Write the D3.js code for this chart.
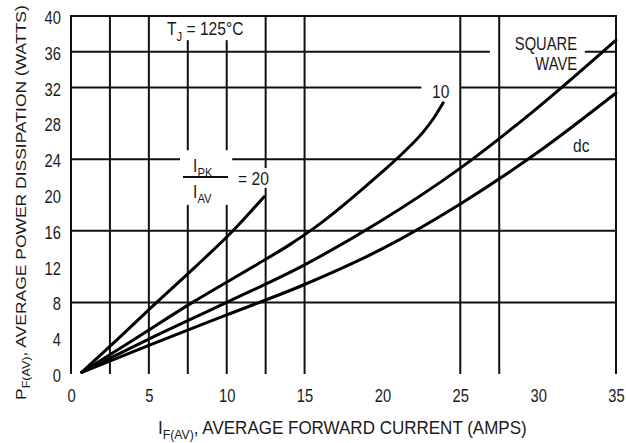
<!DOCTYPE html>
<html>
<head>
<meta charset="utf-8">
<script src="https://cdn.jsdelivr.net/npm/d3@7"></script>
<style>
  body { margin: 0; background: #fff; }
  text { font-family: "Liberation Sans", Arial, sans-serif; fill: #1a1a1a; }
</style>
</head>
<body>
<svg width="626" height="443"></svg>
<script>
// axis ticks
var xTicks = [0, 5, 10, 15, 20, 25, 30, 35];
var yTicks = [0, 4, 8, 12, 16, 20, 24, 28, 32, 36, 40];

// grid lines that are actually drawn on the sheet
var vGrid = [0, 2.5, 5, 7.5, 10, 12.5, 15, 25, 27.5, 35];
var hGrid = [8, 16, 24, 32, 36, 40];

// breaks in the grid where labels sit (data units)
var hGaps = [
    {at: 36, from: 26.9, to: 33.0},
    {at: 32, from: 22.5, to: 25.0},
    {at: 24, from: 7.0, to: 10.35}
];
var vGaps = [
    {at: 7.5, from: 37.3, to: 40},
    {at: 10, from: 37.3, to: 40},
    {at: 7.5, from: 18.9, to: 25.0},
    {at: 10, from: 18.9, to: 25.0},
    {at: 12.5, from: 20.8, to: 23.0}
];

// curves: [I_F(AV) amps, P_F(AV) watts]
var ratio20 = [[0.7, 0.2], [3, 3.9], [5.5, 8], [8, 12], [10.4, 16], [12.4, 19.8]];
var ratio10 = [[0.7, 0.2], [4, 3.8], [7.8, 8], [12, 12.3], [14, 14.4], [16, 16.8], [18, 19.6],
               [20, 22.6], [21.5, 25], [22.6, 27], [23.3, 28.6], [23.9, 30.3]];
var squareWave = [[0.7, 0.2], [5, 3.9], [10, 8], [15, 12.2], [20, 17.2], [25, 23], [30, 29.8], [35, 37.3]];
var dc = [[0.7, 0.2], [5, 3.2], [10, 6.6], [15, 10], [20, 14], [25, 19], [30, 24.8], [35, 31.4]];

var svg = d3.select('svg');
var NARROW = 0.82;   // scanned sheet is squeezed horizontally

var x = d3.scaleLinear().domain([0, 35]).range([71, 616]);
var y = d3.scaleLinear().domain([0, 40]).range([374, 16]);

//split a line into pieces around its gaps
function segments(lo, hi, gaps) {
    var segs = [[lo, hi]];
    gaps.forEach(function(g) {
        var out = [];
        segs.forEach(function(s) {
            if (g.to <= s[0] || g.from >= s[1]) { out.push(s); return; }
            if (g.from > s[0]) out.push([s[0], g.from]);
            if (g.to < s[1]) out.push([g.to, s[1]]);
        });
        segs = out;
    });
    return segs;
}

var gridG = svg.append('g').attr('stroke', '#111').attr('stroke-width', 2);

vGrid.forEach(function(v) {
    var gaps = vGaps.filter(function(g) { return g.at === v; });
    segments(0, 40, gaps).forEach(function(s) {
        gridG.append('line')
            .attr('x1', x(v)).attr('x2', x(v))
            .attr('y1', y(s[0])).attr('y2', y(s[1]));
    });
});

hGrid.forEach(function(v) {
    var gaps = hGaps.filter(function(g) { return g.at === v; });
    segments(0, 35, gaps).forEach(function(s) {
        gridG.append('line')
            .attr('x1', x(s[0]) - (s[0] === 0 ? 1 : 0)).attr('x2', x(s[1]) + (s[1] === 35 ? 1 : 0))
            .attr('y1', y(v)).attr('y2', y(v));
    });
});

//curves
var line = d3.line()
    .x(function(d) { return x(d[0]); })
    .y(function(d) { return y(d[1]); })
    .curve(d3.curveMonotoneX);

[ratio20, ratio10, squareWave, dc].forEach(function(series) {
    svg.append('path')
        .datum(series)
        .attr('d', line)
        .attr('fill', 'none')
        .attr('stroke', '#000')
        .attr('stroke-width', 3)
        .attr('stroke-linecap', 'round');
});

//axes (labels only, the grid draws the frame)
var yAxis = svg.append('g')
    .attr('transform', 'translate(' + x(0) + ',0)')
    .call(d3.axisLeft(y).tickValues(yTicks).tickSize(0));
yAxis.select('.domain').remove();

var xAxis = svg.append('g')
    .attr('transform', 'translate(0,' + y(0) + ')')
    .call(d3.axisBottom(x).tickValues(xTicks).tickSize(0));
xAxis.select('.domain').remove();

svg.selectAll('.tick text')
    .style('font-family', '"Liberation Sans", Arial, sans-serif')
    .style('font-size', '18px')
    .attr('fill', '#1a1a1a');

yAxis.selectAll('.tick text')
    .attr('x', -10 / NARROW)
    .attr('dy', '0.42em')
    .attr('transform', 'scale(' + NARROW + ',1)');

xAxis.selectAll('.tick text')
    .attr('x', 0)
    .attr('y', 0)
    .attr('dy', 28)
    .attr('transform', 'scale(' + NARROW + ',1)');

//text with subscripts; parts = [[string, isSub], ...]
function richText(g, parts, size) {
    var t = g.append('text').style('font-size', size + 'px');
    var shift = 0;
    parts.forEach(function(p) {
        var want = p[1] ? size * 0.3 : 0;
        t.append('tspan')
            .attr('dy', want - shift)
            .style('font-size', (p[1] ? size * 0.72 : size) + 'px')
            .text(p[0]);
        shift = want;
    });
    return t;
}

function label(px, py, parts, size, anchor) {
    var g = svg.append('g')
        .attr('transform', 'translate(' + px + ',' + py + ') scale(' + NARROW + ',1)');
    var t = richText(g, parts, size);
    if (anchor) t.attr('text-anchor', anchor);
    return t;
}

label(x(6.17), y(37.9), [['T', 0], ['J', 1], [' = 125°C', 0]], 19);
label(x(7.84), y(22.6), [['I', 0], ['PK', 1]], 19);
label(x(7.84), y(19.7), [['I', 0], ['AV', 1]], 19);
svg.append('line')
    .attr('x1', x(7.19)).attr('x2', x(10.08))
    .attr('y1', y(22.0)).attr('y2', y(22.0))
    .attr('stroke', '#111').attr('stroke-width', 2);
label(x(10.73), y(21.1), [['= 20', 0]], 19);
label(x(23.19), y(30.8), [['10', 0]], 19);
label(x(32.5), y(36.2), [['SQUARE', 0]], 18, 'end');
label(x(32.5), y(34.0), [['WAVE', 0]], 18, 'end');
label(x(32.24), y(24.8), [['dc', 0]], 19);

//axis titles, stretched to the printed length
var xt = svg.append('g');
var xtText = richText(xt, [['I', 0], ['F(AV)', 1], [', AVERAGE FORWARD CURRENT (AMPS)', 0]], 18);
var xw = xtText.node().getComputedTextLength();
xt.attr('transform', 'translate(158,434) scale(' + (369 / xw) + ',1)');

var yt = svg.append('g');
var ytText = richText(yt, [['P', 0], ['F(AV)', 1], [', AVERAGE POWER DISSIPATION (WATTS)', 0]], 17);
var yw = ytText.node().getComputedTextLength();
yt.attr('transform', 'translate(26,400) scale(' + NARROW + ',' + (395 / yw) + ') rotate(-90)');
</script>
</body>
</html>
